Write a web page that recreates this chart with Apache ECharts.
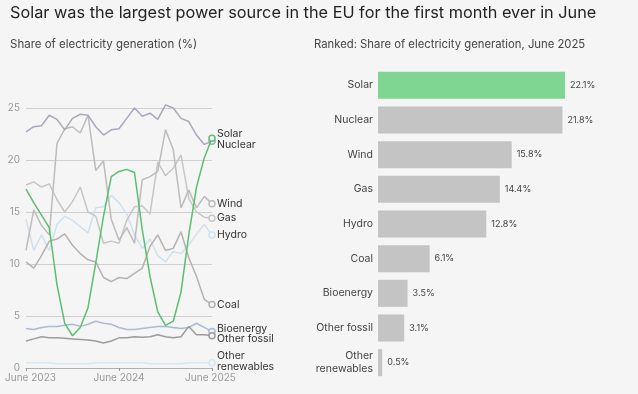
<!DOCTYPE html>
<html>
<head>
<meta charset="utf-8">
<script src="https://cdn.jsdelivr.net/npm/echarts@6/dist/echarts.min.js"></script>
<style>
html,body{margin:0;padding:0;background:#f5f5f5;}
#c{width:638px;height:394px;}
</style>
</head>
<body>
<div id="c"></div>
<script>
const months = ["June 2023","July 2023","August 2023","September 2023","October 2023","November 2023","December 2023",
  "January 2024","February 2024","March 2024","April 2024","May 2024","June 2024","July 2024","August 2024",
  "September 2024","October 2024","November 2024","December 2024","January 2025","February 2025","March 2025",
  "April 2025","May 2025","June 2025"];
const yTicks = [0, 5, 10, 15, 20, 25];

const solar      = [17.2,15.9,14.7,13.5,8.0,4.3,3.1,3.9,5.8,10.1,14.6,18.4,18.9,19.1,18.8,13.3,8.8,5.4,4.1,4.5,7.3,12.8,17.4,20.2,22.1];
const nuclear    = [22.7,23.2,23.3,24.3,23.9,22.9,24.0,24.4,24.3,23.2,22.4,22.9,23.0,24.0,25.0,24.2,24.5,23.9,25.3,25.0,24.0,23.7,22.4,21.5,21.8];
const wind       = [11.3,15.2,13.7,12.8,21.6,23.0,23.2,22.6,24.3,19.0,19.9,14.3,12.3,13.5,12.0,18.1,18.4,18.9,22.9,21.0,15.4,17.1,15.4,16.5,15.8];
const gas        = [17.6,17.9,17.4,17.7,16.2,15.0,16.0,17.4,15.0,14.6,12.0,12.2,12.0,14.2,15.5,15.6,14.8,19.8,18.5,19.2,20.5,16.3,15.0,14.5,14.4];
const hydro      = [14.3,11.3,12.8,11.3,13.8,14.6,14.2,13.6,13.0,15.4,15.5,16.6,15.9,14.8,12.8,11.5,12.4,10.8,10.2,11.2,11.0,11.8,12.9,13.8,12.8];
const coal       = [10.2,9.6,10.8,12.2,12.4,12.9,11.8,11.0,10.4,10.2,8.7,8.3,8.7,8.6,9.1,9.6,11.7,12.8,11.3,11.5,13.1,10.6,8.8,6.6,6.1];
const bioenergy  = [3.8,3.7,3.9,4.0,4.0,4.1,4.2,4.0,4.2,4.5,4.3,4.2,3.9,3.7,3.7,3.8,3.9,4.0,4.0,3.9,3.8,3.9,4.3,3.9,3.5];
const otherFossil= [2.6,2.8,3.0,2.9,2.9,2.85,2.8,2.75,2.7,2.6,2.4,2.6,2.9,2.9,3.0,2.95,3.0,3.2,3.0,2.9,3.0,4.0,3.2,3.2,3.1];
const otherRenew = [0.5,0.5,0.5,0.5,0.4,0.4,0.4,0.4,0.4,0.5,0.5,0.5,0.5,0.5,0.5,0.5,0.4,0.4,0.4,0.4,0.4,0.5,0.5,0.5,0.5];

const rankCategories = ["Solar","Nuclear","Wind","Gas","Hydro","Coal","Bioenergy","Other fossil","Other renewables"];
const rankValues     = [22.1,21.8,15.8,14.4,12.8,6.1,3.5,3.1,0.5];

const FONT = 'Inter, "Noto Sans", sans-serif';
const BG = '#f5f5f5';

const lines = [
  {name:'Other renewables', data: otherRenew, color:'#d3e8f2', off:[0,-1.5]},
  {name:'Hydro', data: hydro, color:'#cfe1ef', off:[0,0]},
  {name:'Gas', data: gas, color:'#c6c6c6', off:[0,0]},
  {name:'Coal', data: coal, color:'#b6b2ae', off:[0,0]},
  {name:'Wind', data: wind, color:'#bcbcbc', off:[0,0]},
  {name:'Bioenergy', data: bioenergy, color:'#a9bbd3', off:[0,-3]},
  {name:'Other fossil', data: otherFossil, color:'#9c9c9c', off:[0,3.5]},
  {name:'Nuclear', data: nuclear, color:'#a8a8c1', off:[0,4]},
  {name:'Solar', data: solar, color:'#5bbf6f', off:[0,-4]}
];

const lineSeries = lines.map((l, i) => ({
  type:'line', name:l.name, data:l.data, xAxisIndex:0, yAxisIndex:0,
  clip:false, z: 2 + i,
  symbol:'circle', showSymbol:true, showAllSymbol:true,
  symbolSize:(v, p) => p.dataIndex === l.data.length - 1 ? 6 : 0,
  lineStyle:{color:l.color, width:1.5},
  itemStyle:{color:BG, borderColor:l.color, borderWidth:1.5},
  emphasis:{disabled:true},
  endLabel:{show:true, distance:5, offset:l.off, color:'#333', fontSize:10.5, fontFamily:FONT, lineHeight:11,
    formatter: () => l.name === 'Other renewables' ? 'Other\nrenewables' : l.name}
}));

const option = {
  animation:false,
  backgroundColor:BG,
  textStyle:{fontFamily:FONT},
  title:[
    {text:'Solar was the largest power source in the EU for the first month ever in June', left:10, top:5, padding:0,
      textStyle:{fontSize:16.3, fontWeight:'normal', color:'#222', fontFamily:FONT}},
    {text:'Share of electricity generation (%)', left:10, top:39, padding:0,
      textStyle:{fontSize:11.5, fontWeight:'normal', color:'#444', fontFamily:FONT}},
    {text:'Ranked: Share of electricity generation, June 2025', left:314, top:39, padding:0,
      textStyle:{fontSize:11.3, fontWeight:'normal', color:'#444', fontFamily:FONT}}
  ],
  grid:[
    {left:26, width:186, top:108, height:260},
    {left:378, width:187, top:68, height:312}
  ],
  xAxis:[
    {type:'category', gridIndex:0, data:months, boundaryGap:false,
      axisLine:{show:true, lineStyle:{color:'#b0b0b0'}},
      axisTick:{show:true, alignWithLabel:true, interval:11, length:3, lineStyle:{color:'#999'}},
      axisLabel:{interval:11, color:'#999', fontSize:10, margin:5, fontFamily:FONT,
        formatter:(v, i) => i === 0 ? '{first|' + v + '}' : (i === months.length - 1 ? '{last|' + v + '}' : v),
        rich:{first:{padding:[0,0,0,9], color:'#999', fontSize:10, fontFamily:FONT},
              last:{padding:[0,3,0,0], color:'#999', fontSize:10, fontFamily:FONT}}},
      splitLine:{show:false}},
    {type:'value', gridIndex:1, min:0, max:Math.max(...rankValues), show:false}
  ],
  yAxis:[
    {type:'value', gridIndex:0, min:yTicks[0], max:yTicks[yTicks.length-1], interval:yTicks[1]-yTicks[0],
      axisLine:{show:false}, axisTick:{show:false},
      axisLabel:{color:'#999', fontSize:10, margin:6, fontFamily:FONT},
      splitLine:{lineStyle:{color:'#cfcfcf', width:1}}},
    {type:'category', gridIndex:1, data:rankCategories, inverse:true,
      axisLine:{show:false}, axisTick:{show:false},
      axisLabel:{color:'#444', fontSize:10.5, margin:5, lineHeight:13, fontFamily:FONT,
        formatter:v => v === 'Other renewables' ? 'Other\nrenewables' : v}}
  ],
  series:[
    ...lineSeries,
    {type:'bar', xAxisIndex:1, yAxisIndex:1, barCategoryGap:'22%',
      data: rankValues.map((v, i) => ({value:v, itemStyle:{color: i === 0 ? '#7fd592' : '#c4c4c4'}})),
      label:{show:true, position:'right', distance:5, color:'#444', fontSize:9, fontFamily:FONT,
        formatter: p => p.value + '%'},
      emphasis:{disabled:true}}
  ]
};

const chart = echarts.init(document.getElementById('c'), null, {renderer:'canvas'});
chart.setOption(option);
</script>
</body>
</html>
